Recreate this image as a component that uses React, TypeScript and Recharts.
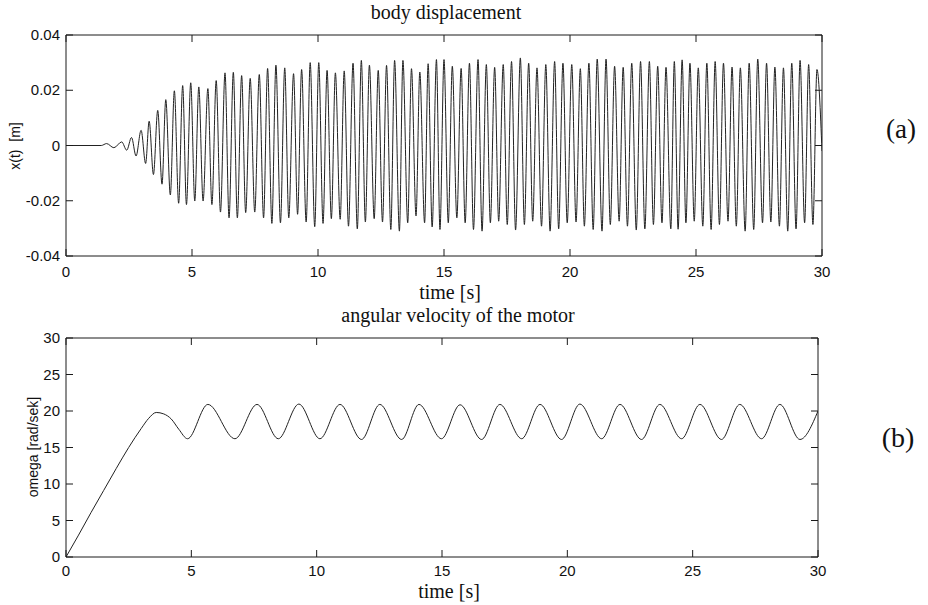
import React from 'react';
import { LineChart, Line, XAxis, YAxis, ReferenceLine } from 'recharts';

// time axis ticks shared by both panels
const timeTicks = [0, 5, 10, 15, 20, 25, 30];
const dispTicks = [-0.04, -0.02, 0, 0.02, 0.04];
const omegaTicks = [0, 5, 10, 15, 20, 25, 30];

// body displacement: peaks / troughs
const dispT = [
  0, 1.4, 1.61, 1.9, 2.21, 2.41, 2.6, 2.78, 2.98, 3.16,
  3.3, 3.47, 3.64, 3.81, 3.96, 4.14, 4.3, 4.47, 4.63, 4.78,
  4.95, 5.11, 5.27, 5.44, 5.63, 5.79, 5.96, 6.13, 6.31, 6.47,
  6.64, 6.8, 6.97, 7.13, 7.31, 7.49, 7.67, 7.84, 8.0, 8.17,
  8.33, 8.51, 8.68, 8.84, 9.03, 9.19, 9.35, 9.53, 9.69, 9.87,
  10.03, 10.2, 10.36, 10.53, 10.69, 10.88, 11.04, 11.21, 11.39, 11.56,
  11.72, 11.88, 12.04, 12.23, 12.39, 12.56, 12.72, 12.89, 13.04, 13.23,
  13.37, 13.56, 13.71, 13.89, 14.04, 14.23, 14.37, 14.53, 14.7, 14.84,
  15.0, 15.17, 15.33, 15.51, 15.68, 15.84, 16.01, 16.17, 16.35, 16.51,
  16.68, 16.84, 17.01, 17.17, 17.35, 17.51, 17.68, 17.84, 18.03, 18.19,
  18.36, 18.52, 18.69, 18.87, 19.04, 19.21, 19.39, 19.55, 19.72, 19.89,
  20.07, 20.24, 20.41, 20.57, 20.75, 20.92, 21.08, 21.27, 21.43, 21.6,
  21.77, 21.95, 22.11, 22.28, 22.45, 22.63, 22.8, 22.97, 23.15, 23.31,
  23.48, 23.65, 23.81, 24.0, 24.14, 24.29, 24.45, 24.6, 24.76, 24.93,
  25.09, 25.27, 25.43, 25.6, 25.76, 25.93, 26.09, 26.27, 26.43, 26.6,
  26.76, 26.95, 27.11, 27.29, 27.45, 27.64, 27.8, 27.97, 28.13, 28.31,
  28.47, 28.64, 28.8, 28.97, 29.13, 29.31, 29.47, 29.64, 29.8, 30.0,
];
const dispX = [
  0, 0, 0.0007, -0.0008, 0.0013, -0.0017, 0.0029, -0.0038, 0.0055, -0.0065,
  0.0088, -0.0105, 0.0127, -0.014, 0.0166, -0.0179, 0.0198, -0.0209, 0.0217, -0.0214,
  0.0227, -0.0201, 0.0212, -0.0201, 0.0206, -0.0214, 0.0235, -0.0241, 0.0263, -0.0262,
  0.0265, -0.0262, 0.0253, -0.0243, 0.0243, -0.0241, 0.0257, -0.0262, 0.0279, -0.0282,
  0.0291, -0.028, 0.0281, -0.0262, 0.026, -0.0249, 0.0275, -0.0277, 0.03, -0.0294,
  0.03, -0.0282, 0.0272, -0.0265, 0.0263, -0.0267, 0.027, -0.0292, 0.0298, -0.0302,
  0.0308, -0.0277, 0.0291, -0.0265, 0.0272, -0.0277, 0.029, -0.0304, 0.0308, -0.031,
  0.0308, -0.028, 0.0278, -0.0255, 0.0266, -0.028, 0.0296, -0.0295, 0.0311, -0.0304,
  0.0311, -0.028, 0.0287, -0.0262, 0.0279, -0.028, 0.0298, -0.0304, 0.0311, -0.031,
  0.0293, -0.028, 0.0283, -0.0274, 0.0293, -0.0286, 0.0304, -0.0306, 0.0317, -0.0286,
  0.0298, -0.0274, 0.0281, -0.0292, 0.0293, -0.031, 0.0304, -0.0302, 0.0298, -0.028,
  0.0293, -0.0277, 0.0278, -0.0292, 0.0298, -0.0304, 0.0313, -0.031, 0.0313, -0.0286,
  0.0287, -0.0274, 0.0283, -0.0292, 0.0298, -0.0306, 0.0304, -0.0302, 0.0304, -0.0286,
  0.0287, -0.028, 0.0283, -0.0302, 0.0304, -0.0303, 0.031, -0.028, 0.0298, -0.0274,
  0.0281, -0.0292, 0.0298, -0.0304, 0.0304, -0.0286, 0.0298, -0.0274, 0.0284, -0.0292,
  0.0281, -0.031, 0.0298, -0.0304, 0.0313, -0.028, 0.0298, -0.0277, 0.0284, -0.0292,
  0.0281, -0.031, 0.0298, -0.0302, 0.0308, -0.028, 0.0293, -0.0286, 0.0275, -0.002,
];

// angular velocity of the motor: run-up, then peaks / troughs
const omegaT = [
  0, 0.5, 1.0, 1.5, 2.0, 2.5, 3.0, 3.3, 3.6, 3.9,
  4.2, 4.5, 4.85, 5.66, 6.74, 7.62, 8.47, 9.29, 10.13, 10.93,
  11.79, 12.52, 13.39, 14.08, 14.98, 15.72, 16.58, 17.31, 18.18, 18.91,
  19.77, 20.5, 21.37, 22.1, 22.96, 23.69, 24.56, 25.29, 26.15, 26.88,
  27.75, 28.48, 29.28, 30,
];
const omegaW = [
  0, 3.0, 6.1, 9.1, 12.1, 15.0, 17.6, 19.0, 19.8, 19.6,
  18.9, 17.5, 16.2, 20.9, 16.2, 20.9, 16.2, 20.95, 16.2, 20.9,
  16.1, 20.9, 16.1, 20.9, 16.2, 20.85, 16.1, 20.9, 16.2, 20.9,
  16.1, 20.95, 16.2, 20.9, 16.1, 20.9, 16.2, 20.9, 16.1, 20.9,
  16.2, 20.9, 16.1, 20.0,
];

const dispData = dispT.map((t, i) => ({ t, v: dispX[i] }));
const omegaData = omegaT.map((t, i) => ({ t, v: omegaW[i] }));

const sans = '"Liberation Sans", Arial, Helvetica, sans-serif';
const serif = '"Liberation Serif", "Times New Roman", Times, serif';

const INK = '#1a1a1a';
const TICK_LEN = 7;
const CHART_W = 928;
const CHART_H = 290;
const PLOT_LEFT = 66;

interface Geo { top: number; bottom: number; left: number; right: number; labelGap: number }

// MATLAB-style box: ticks point inwards on all four sides
const timeTick = (geo: Geo) => (props: any) => {
  const { payload } = props;
  const x = payload.coordinate;
  return (
    <g>
      <line x1={x} x2={x} y1={geo.bottom} y2={geo.bottom - TICK_LEN} stroke={INK} />
      <line x1={x} x2={x} y1={geo.top} y2={geo.top + TICK_LEN} stroke={INK} />
      <text x={x} y={geo.bottom + geo.labelGap} textAnchor="middle" fontFamily={sans} fontSize={15} fill="#111">
        {payload.value}
      </text>
    </g>
  );
};

const valueTick = (geo: Geo) => (props: any) => {
  const { payload } = props;
  const y = payload.coordinate;
  return (
    <g>
      <line x1={geo.left} x2={geo.left + TICK_LEN} y1={y} y2={y} stroke={INK} />
      <line x1={geo.right} x2={geo.right - TICK_LEN} y1={y} y2={y} stroke={INK} />
      <text x={geo.left - 6} y={y + 5} textAnchor="end" fontFamily={sans} fontSize={15} fill="#111">
        {payload.value}
      </text>
    </g>
  );
};

interface PanelProps {
  data: { t: number; v: number }[];
  yDomain: [number, number];
  yTicks: number[];
  top: number;
  marginTop: number;
  marginRight: number;
  xAxisHeight: number;
  labelGap: number;
}

const Panel = ({ data, yDomain, yTicks, top, marginTop, marginRight, xAxisHeight, labelGap }: PanelProps) => {
  const geo: Geo = {
    top: marginTop,
    bottom: CHART_H - xAxisHeight,
    left: PLOT_LEFT,
    right: CHART_W - marginRight,
    labelGap,
  };
  return (
    <div style={{ position: 'absolute', left: 0, top }}>
      <LineChart
        width={CHART_W}
        height={CHART_H}
        data={data}
        margin={{ top: marginTop, right: marginRight, left: 0, bottom: 0 }}
      >
        <XAxis
          dataKey="t"
          type="number"
          domain={[0, 30]}
          ticks={timeTicks}
          interval={0}
          height={xAxisHeight}
          axisLine={{ stroke: INK }}
          tickLine={false}
          tick={timeTick(geo)}
          allowDataOverflow
        />
        <YAxis
          type="number"
          domain={yDomain}
          ticks={yTicks}
          interval={0}
          width={PLOT_LEFT}
          axisLine={{ stroke: INK }}
          tickLine={false}
          tick={valueTick(geo)}
          allowDataOverflow
        />
        <ReferenceLine y={yDomain[1]} stroke={INK} />
        <ReferenceLine x={30} stroke={INK} />
        <Line
          dataKey="v"
          type="monotone"
          stroke="#222"
          strokeWidth={1}
          dot={false}
          activeDot={false}
          isAnimationActive={false}
        />
      </LineChart>
    </div>
  );
};

export default function App() {
  return (
    <div style={{ position: 'absolute', left: 0, top: 0, width: 928, height: 605, background: '#fff', overflow: 'hidden' }}>
      <Panel data={dispData} yDomain={[-0.04, 0.04]} yTicks={dispTicks} top={0} marginTop={35} marginRight={106} xAxisHeight={34} labelGap={21} />
      <Panel data={omegaData} yDomain={[0, 30]} yTicks={omegaTicks} top={300} marginTop={38} marginRight={110} xAxisHeight={33} labelGap={19} />

      {/* titles, axis labels and panel letters */}
      <svg width={928} height={605} style={{ position: 'absolute', left: 0, top: 0, pointerEvents: 'none' }}>
        <g fontFamily={serif} fill="#111">
          <text x={446} y={19} fontSize={20} textAnchor="middle">body displacement</text>
          <text x={450} y={299} fontSize={20} textAnchor="middle">time [s]</text>
          <text x={458} y={322} fontSize={20} textAnchor="middle">angular velocity of the motor</text>
          <text x={449} y={598} fontSize={20} textAnchor="middle">time [s]</text>
          <text x={901} y={138} fontSize={27} textAnchor="middle">(a)</text>
          <text x={898} y={447} fontSize={28} textAnchor="middle">(b)</text>
        </g>
        <g fontFamily={sans} fill="#111" fontSize={14}>
          <text transform="translate(20,146) rotate(-90)" textAnchor="middle">x(t)&#160;&#160;[m]</text>
          <text transform="translate(38,447) rotate(-90)" textAnchor="middle">omega [rad/sek]</text>
        </g>
      </svg>
    </div>
  );
}
